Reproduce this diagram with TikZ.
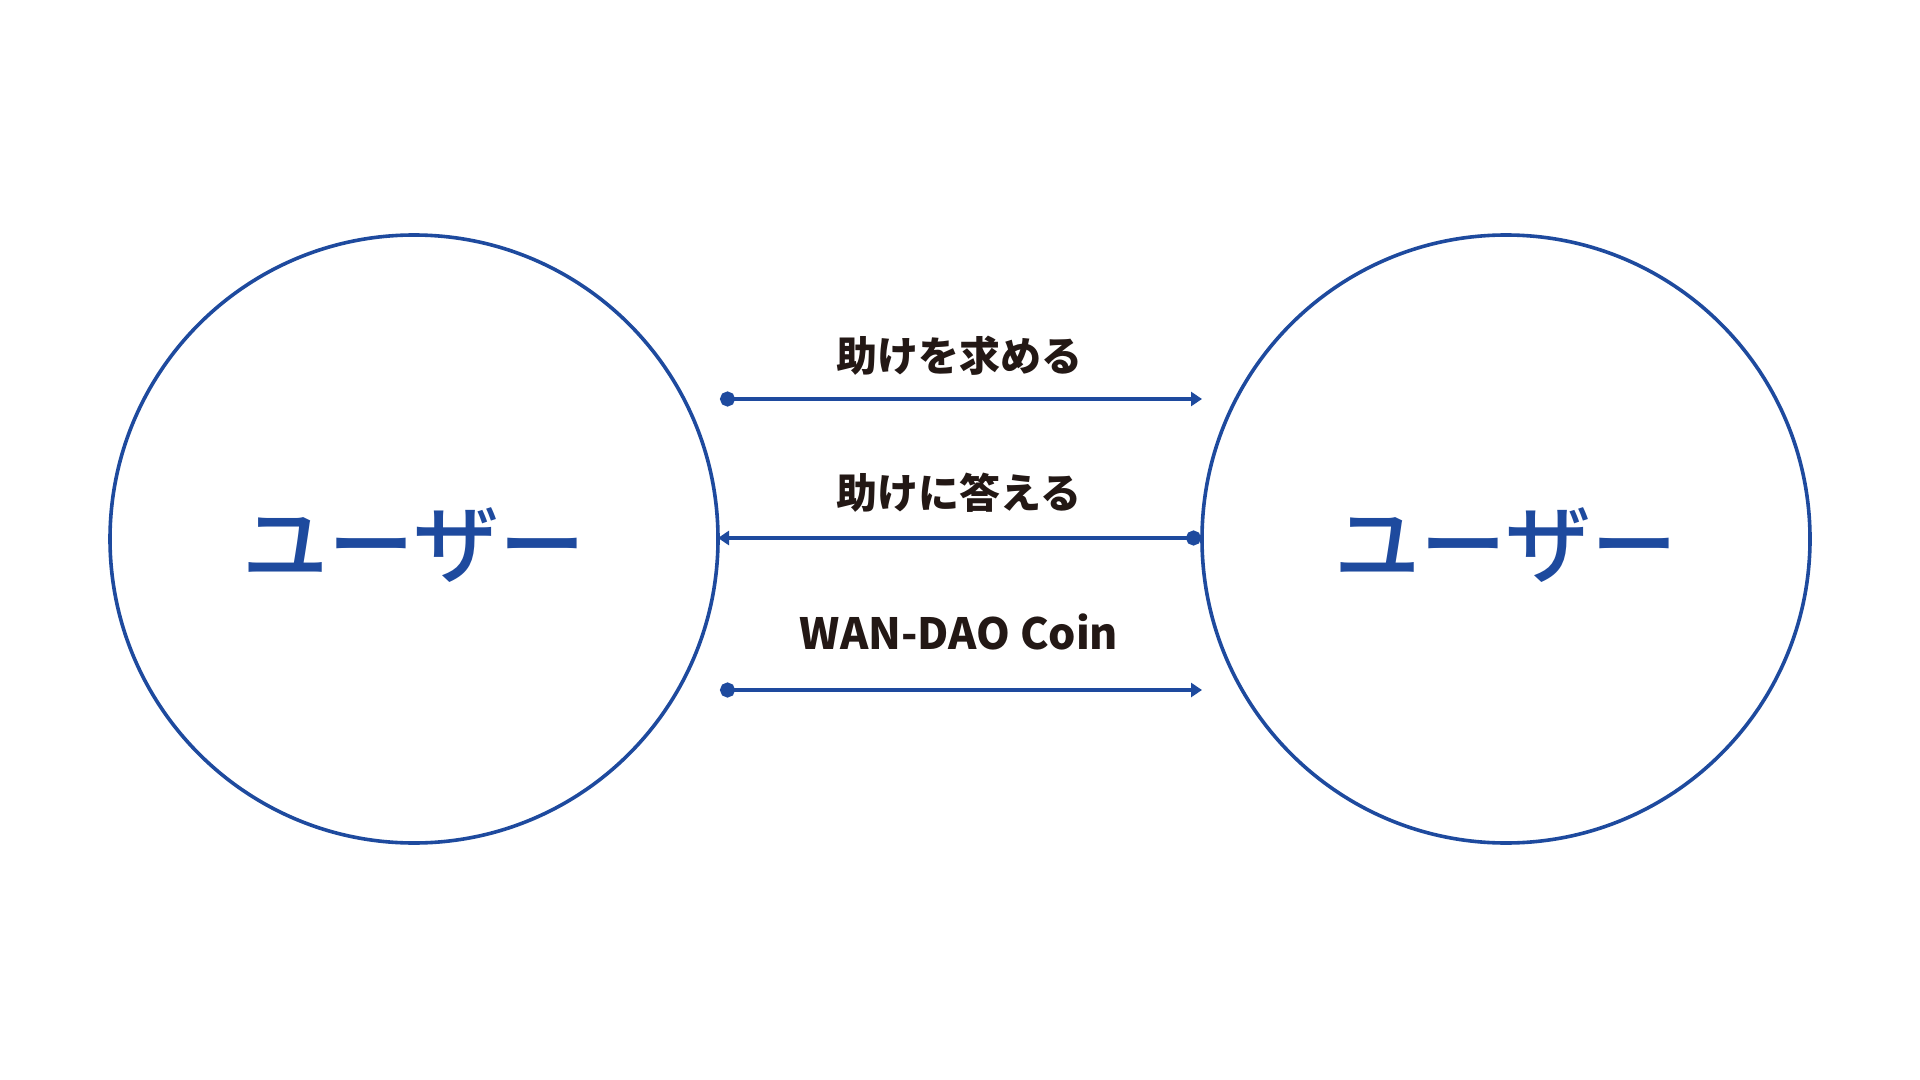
\documentclass[tikz,border=0pt]{standalone}
\usepackage{fontspec}
\newfontfamily\jp{Noto Sans CJK JP Medium}
\newfontfamily\jpb{Noto Sans CJK JP Black}
\usetikzlibrary{arrows.meta}
\definecolor{wblue}{HTML}{1E4A9E}
\definecolor{wtext}{HTML}{231815}
\tikzset{
 user/.style={circle,draw=wblue,line width=1.8pt,minimum size=304pt,inner sep=0pt,font=\jp\fontsize{43}{43}\selectfont,text=wblue},
 lbl/.style={font=\jpb\fontsize{20.5}{20.5}\selectfont,text=wtext},
 conn/.style={draw=wblue,line width=2pt,{Circle[length=7.5pt]}-{Triangle[length=5.5pt,width=7pt]}}
}
\begin{document}
\begin{tikzpicture}[x=0.5pt,y=-0.5pt]
\useasboundingbox[fill=white] (0,0) rectangle (1920,1080);
\node[user] (L) at (414,539) {\raisebox{-3pt}[\height][\depth]{ユーザー}};
\node[user] (R) at (1506,539) {\raisebox{-3pt}[\height][\depth]{ユーザー}};
\coordinate (a1) at (720,399); \coordinate (b1) at (1202,399);
\coordinate (a2) at (1201,538); \coordinate (b2) at (718,538);
\coordinate (a3) at (720,690); \coordinate (b3) at (1202,690);
\draw[conn] (a1) -- (b1);
\draw[conn] (a2) -- (b2);
\draw[conn] (a3) -- (b3);
\node[lbl] (t1) at (959,356) {助けを求める};
\node[lbl] (t2) at (959,493) {助けに答える};
\node[lbl,font=\jpb\fontsize{21.5}{21.5}\selectfont] (t3) at (959,632) {WAN-DAO Coin};
\end{tikzpicture}
\end{document}
